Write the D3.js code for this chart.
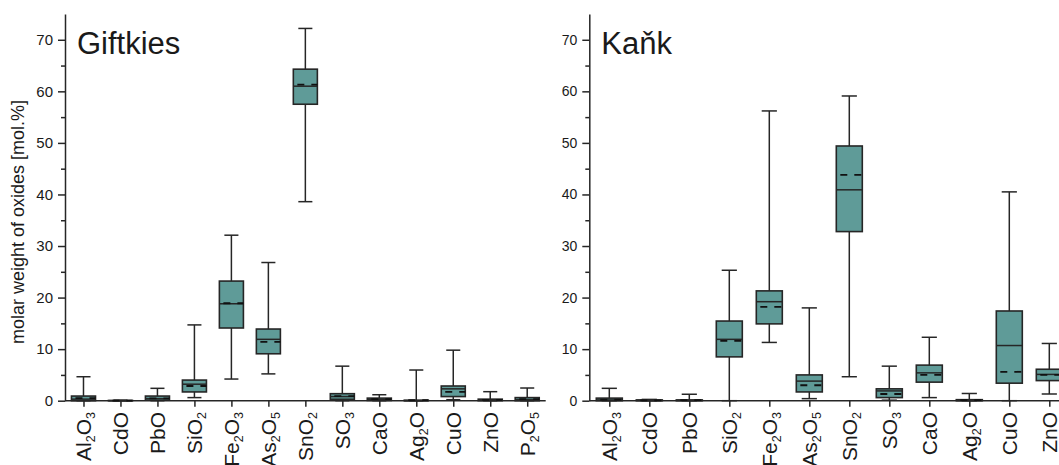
<!DOCTYPE html>
<html>
<head>
<meta charset="utf-8">
<script src="https://cdn.jsdelivr.net/npm/d3@7"></script>
<style>
	body { margin: 0; background: #fff; }
	text { font-family: Arial, "Liberation Sans", sans-serif; fill: #1a1a1a; }
</style>
</head>
<body>
<div id="chart"></div>
<script>

// categories (digits are drawn as subscripts)
const oxides = ["Al2O3", "CdO", "PbO", "SiO2", "Fe2O3", "As2O5", "SnO2", "SO3", "CaO", "Ag2O", "CuO", "ZnO", "P2O5"];

const majorTicks = [0, 10, 20, 30, 40, 50, 60, 70];
const minorTicks = [5, 15, 25, 35, 45, 55, 65];

// Giftkies
const giftkiesMin    = [0,    0,    0,    0.6,  4.2,  5.2,  38.6, 0,    0,    0,    0.2,  0,    0];
const giftkiesQ1     = [0,    0,    0.1,  1.7,  14.1, 9.1,  57.5, 0.27, 0.05, 0,    0.8,  0,    0];
const giftkiesMedian = [0.3,  0,    0.4,  3.2,  18.8, 11.9, 61.0, 0.8,  0.2,  0,    2.3,  0.1,  0.2];
const giftkiesMean   = [0.5,  0.02, 0.45, 2.85, 18.9, 11.4, 61.3, 0.9,  0.3,  0.1,  1.7,  0.15, 0.3];
const giftkiesQ3     = [0.9,  0.05, 0.9,  4.0,  23.2, 13.9, 64.3, 1.36, 0.5,  0.1,  2.85, 0.3,  0.6];
const giftkiesMax    = [4.65, 0.1,  2.4,  14.7, 32.1, 26.8, 72.2, 6.7,  1.16, 5.95, 9.8,  1.75, 2.46];

// Kaňk
const kankMin    = [0,    0,    0,    0,     11.3, 0.4,  4.65, 0.1, 0.6,  0,    0,    1.3,  0];
const kankQ1     = [0,    0,    0,    8.5,   14.9, 1.7,  32.8, 0.6, 3.6,  0,    3.4,  3.9,  0];
const kankMedian = [0.15, 0.05, 0.05, 11.9,  19.2, 3.8,  40.9, 1.9, 5.4,  0.05, 10.7, 5.1,  0.1];
const kankMean   = [0.2,  0.05, 0.1,  11.6,  18.2, 3.0,  43.8, 1.3, 5.0,  0.1,  5.6,  5.0,  0.2];
const kankQ3     = [0.5,  0.15, 0.15, 15.45, 21.3, 5.0,  49.4, 2.3, 6.9,  0.2,  17.4, 6.1,  0.4];
const kankMax    = [2.4,  0.25, 1.25, 25.3,  56.2, 18.0, 59.1, 6.7, 12.3, 1.4,  40.5, 11.1, 1.5];


let svg = d3.select("#chart")
	.append("svg")
	.attr("width", 1059)
	.attr("height", 465);

const lineColor = "#262626";
const boxFill = "#5f9b98";

function zip(min, q1, med, mean, q3, max) {
	return oxides.map(function (o, i) {
		return { name: o, min: min[i], q1: q1[i], median: med[i], mean: mean[i], q3: q3[i], max: max[i] };
	});
}

// draws one box plot panel
function boxPanel(data, opts) {

	let y = d3.scaleLinear().domain([0, 75]).range([400.7, 14]);

	let x = d3.scalePoint()
		.domain(oxides)
		.range([opts.left, opts.right])
		.padding(0.5);

	let step = x.step();
	let bw = step * 0.65;
	let cw = step * 0.38;

	let g = svg.append("g");

	// y axis, minor then major
	g.append("g")
		.attr("transform", "translate(" + opts.left + ",0)")
		.call(d3.axisLeft(y).tickValues(minorTicks).tickSize(4).tickFormat("").tickSizeOuter(0))
		.call(function (a) { a.select(".domain").remove(); });

	let yAxis = g.append("g")
		.attr("transform", "translate(" + opts.left + ",0)")
		.call(d3.axisLeft(y).tickValues(majorTicks).tickSize(7).tickPadding(5).tickSizeOuter(0));
	yAxis.selectAll("text")
		.style("font-size", opts.tickFont + "px")
		.style("font-family", "Arial, 'Liberation Sans', sans-serif");

	// x axis
	g.append("g")
		.attr("transform", "translate(0," + y(0) + ")")
		.call(d3.axisBottom(x).tickSize(6).tickFormat("").tickSizeOuter(0))
		.call(function (a) {
			a.select(".domain").attr("d", "M" + opts.left + ",0H" + opts.right);
		});

	g.selectAll(".domain, .tick line")
		.attr("stroke", lineColor)
		.attr("stroke-width", 1.5);

	// x labels with subscripts
	oxides.forEach(function (o) {
		let t = g.append("g")
			.attr("transform", "translate(" + (x(o) + 7.5) + ",412) rotate(-90)")
			.append("text")
			.attr("text-anchor", "end")
			.style("font-size", "21px");
		let tokens = o.match(/\d+|\D+/g);
		let shift = 0;
		tokens.forEach(function (tok) {
			let isSub = /\d/.test(tok);
			let s = isSub ? 4 : 0;
			let ts = t.append("tspan").text(tok);
			if (s - shift != 0) ts.attr("dy", s - shift);
			if (isSub) ts.style("font-size", "12.5px");
			shift = s;
		});
	});

	let boxes = g.selectAll(".box")
		.data(data)
		.enter()
		.append("g")
		.attr("class", "box");

	// whisker
	boxes.append("line")
		.attr("x1", function (d) { return x(d.name); })
		.attr("x2", function (d) { return x(d.name); })
		.attr("y1", function (d) { return y(d.min); })
		.attr("y2", function (d) { return y(d.max); })
		.attr("stroke", lineColor)
		.attr("stroke-width", 1.5);

	// caps
	["min", "max"].forEach(function (k) {
		boxes.append("line")
			.attr("x1", function (d) { return x(d.name) - cw / 2; })
			.attr("x2", function (d) { return x(d.name) + cw / 2; })
			.attr("y1", function (d) { return y(d[k]); })
			.attr("y2", function (d) { return y(d[k]); })
			.attr("stroke", lineColor)
			.attr("stroke-width", 1.5);
	});

	boxes.append("rect")
		.attr("x", function (d) { return x(d.name) - bw / 2; })
		.attr("y", function (d) { return y(d.q3); })
		.attr("width", bw)
		.attr("height", function (d) { return y(d.q1) - y(d.q3); })
		.attr("fill", boxFill)
		.attr("stroke", lineColor)
		.attr("stroke-width", 1.6);

	// median
	boxes.append("line")
		.attr("x1", function (d) { return x(d.name) - bw / 2; })
		.attr("x2", function (d) { return x(d.name) + bw / 2; })
		.attr("y1", function (d) { return y(d.median); })
		.attr("y2", function (d) { return y(d.median); })
		.attr("stroke", lineColor)
		.attr("stroke-width", 1.5);

	// mean (dashed)
	boxes.append("line")
		.attr("x1", function (d) { return x(d.name) - bw / 2; })
		.attr("x2", function (d) { return x(d.name) + bw / 2; })
		.attr("y1", function (d) { return y(d.mean); })
		.attr("y2", function (d) { return y(d.mean); })
		.attr("stroke", "#111")
		.attr("stroke-width", 1.8)
		.attr("stroke-dasharray", "7,7")
		.attr("stroke-dashoffset", 10);

	// title
	g.append("text")
		.attr("x", opts.left + 12)
		.attr("y", 54)
		.style("font-size", "31px")
		.text(opts.title);
}

boxPanel(zip(giftkiesMin, giftkiesQ1, giftkiesMedian, giftkiesMean, giftkiesQ3, giftkiesMax),
	{ left: 65, right: 545.7, title: "Giftkies", tickFont: 15 });

boxPanel(zip(kankMin, kankQ1, kankMedian, kankMean, kankQ3, kankMax),
	{ left: 589.3, right: 1109.3, title: "Kaňk", tickFont: 14 });

// y axis label
svg.append("text")
	.attr("transform", "translate(24,222) rotate(-90)")
	.attr("text-anchor", "middle")
	.style("font-size", "18px")
	.text("molar weight of oxides [mol.%]");

</script>
</body>
</html>
